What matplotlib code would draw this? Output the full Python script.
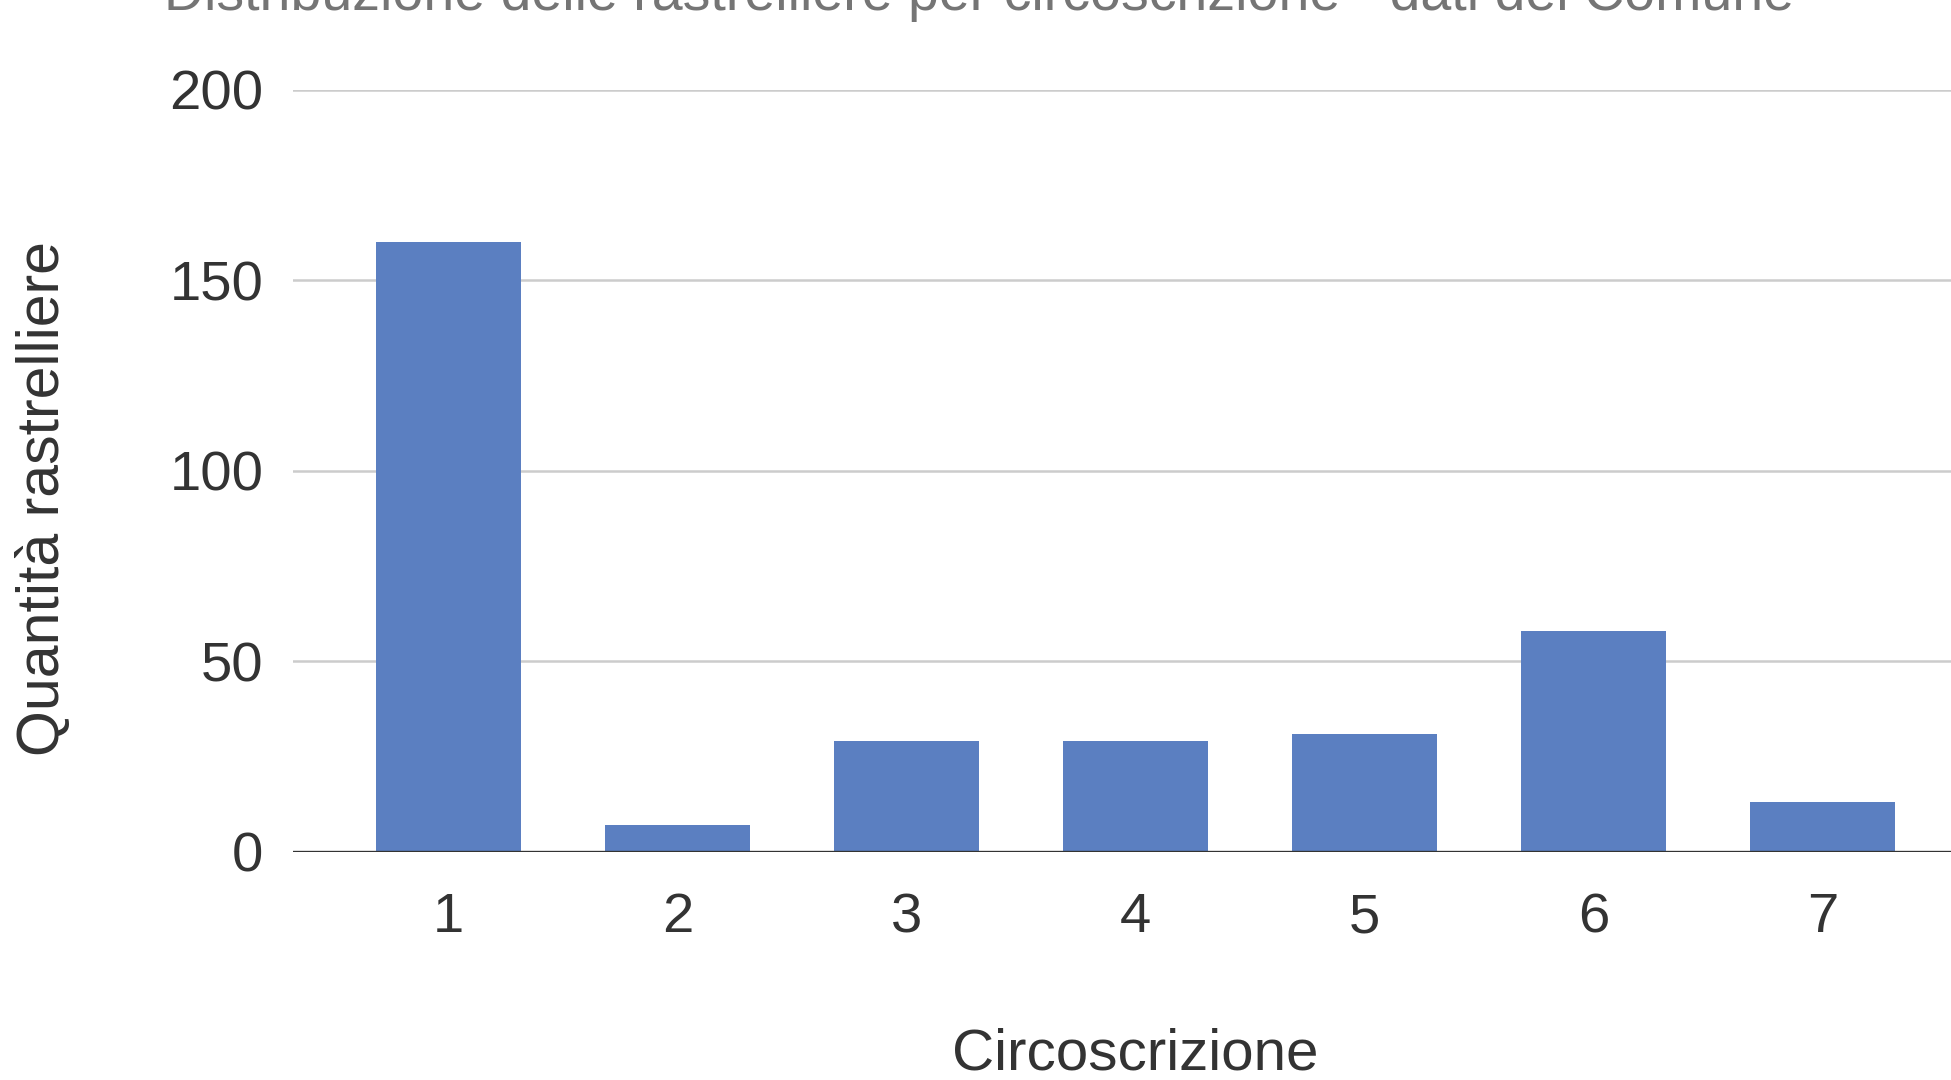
import matplotlib
matplotlib.use('Agg')
import matplotlib.pyplot as plt

circoscrizioni = ['1', '2', '3', '4', '5', '6', '7']
rastrelliere = [160, 7, 29, 29, 31, 58, 13]
y_ticks = [0, 50, 100, 150, 200]

plt.rcParams['font.family'] = ['Liberation Sans', 'DejaVu Sans']

fig = plt.figure(figsize=(19.51, 10.8), dpi=100)
ax = fig.add_axes([0.150, 0.2113, 0.85, 0.7057])

x = range(len(circoscrizioni))
ax.bar(x, rastrelliere, width=0.635, color='#5b7fc1', zorder=3)

ax.set_xlim(-0.68, 6.56)
ax.set_ylim(0, 200)
ax.set_yticks(y_ticks)
ax.set_xticks(list(x))
ax.set_xticklabels(circoscrizioni)
ax.yaxis.grid(True, color='#cccccc', linewidth=1.8, zorder=0)
ax.axhline(0, color='#333333', linewidth=2.4, zorder=4)
for s in ax.spines.values():
    s.set_visible(False)
ax.tick_params(axis='both', length=0, labelsize=40.5, colors='#333333')
ax.tick_params(axis='x', pad=29)
ax.tick_params(axis='y', pad=21)

fig.text(0.5817, 0.024, 'Circoscrizione', ha='center', va='center',
         fontsize=42, color='#333333')
fig.text(0.0225, 0.538, 'Quantità rastrelliere', ha='center', va='center',
         rotation=90, fontsize=42.5, color='#333333')

# title is cut off at the top of the original picture
fig.text(0.502, 0.9905, 'Distribuzione delle rastrelliere per circoscrizione - dati del Comune',
         ha='center', va='baseline', fontsize=40, color='#757575')

fig.savefig('out.png', dpi=100)
